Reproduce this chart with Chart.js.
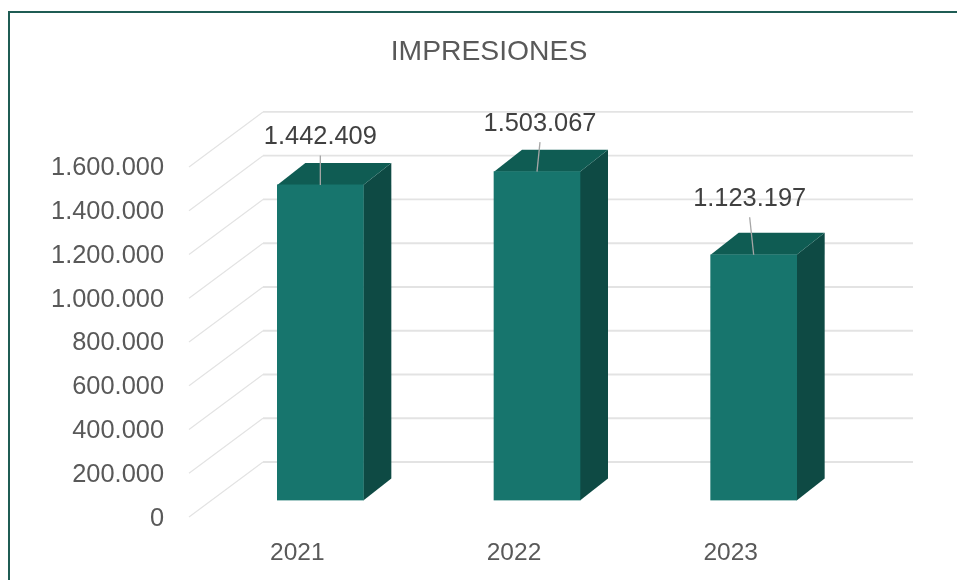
<!DOCTYPE html>
<html>
<head>
<meta charset="utf-8">
<title>IMPRESIONES</title>
<style>html,body{margin:0;padding:0;background:#fff}canvas{display:block}</style>
<script src="https://cdn.jsdelivr.net/npm/chart.js@4"></script>
</head>
<body>
<canvas id="c" width="957" height="580"></canvas>
<script>
const chartTitle = 'IMPRESIONES';
const categories = ['2021', '2022', '2023'];
const impressions = [1442409, 1503067, 1123197];
const axisMax = 1600000;
const axisStep = 200000;

// Oblique projection of the 3D look (pixels)
const wallDepth = { x: 74, y: 55 };
const barShift = { x: 23, y: 16.5 };
const barDepth = { x: 28, y: 22 };
const labelShift = [{ x: 0, y: -47.5, gap: 18 }, { x: 3, y: -47.5, gap: 18 }, { x: -4, y: -55.5, gap: 18 }];
const yLabelNudge = 1.5;

const fontFamily = '"Liberation Sans", Arial, sans-serif';
const fmt = v => String(v).replace(/\B(?=(\d{3})+(?!\d))/g, '.');

const plot3d = {
  id: 'plot3d',
  afterLayout(chart) {
    // the title is centred a little to the right of the canvas centre
    chart.titleBlock.left = 138;
    chart.titleBlock.right = 840;
    // value labels sit slightly below their grid-line ends
    const y = chart.scales.y, drawLabels = y.drawLabels;
    if (!y._nudged) {
      y._nudged = true;
      y.drawLabels = function (area) {
        chart.ctx.save();
        chart.ctx.translate(0, yLabelNudge);
        drawLabels.call(this, area);
        chart.ctx.restore();
      };
    }
  },
  beforeDraw(chart) {
    const ctx = chart.ctx;
    ctx.save();
    ctx.strokeStyle = '#1f5c54';
    ctx.lineWidth = 2;
    ctx.beginPath();
    ctx.moveTo(9, 580);
    ctx.lineTo(9, 12);
    ctx.lineTo(957, 12);
    ctx.stroke();
    ctx.restore();
  },
  beforeDatasetsDraw(chart) {
    const ctx = chart.ctx, y = chart.scales.y, a = chart.chartArea;
    ctx.save();
    ctx.strokeStyle = '#e3e3e3';
    y.ticks.forEach(t => {
      const py = y.getPixelForValue(t.value);
      ctx.lineWidth = 1.2;
      ctx.beginPath();
      ctx.moveTo(a.left, py);
      ctx.lineTo(a.left + wallDepth.x, py - wallDepth.y);
      ctx.stroke();
      ctx.lineWidth = 1.8;
      ctx.beginPath();
      ctx.moveTo(a.left + wallDepth.x, py - wallDepth.y);
      ctx.lineTo(a.right + wallDepth.x, py - wallDepth.y);
      ctx.stroke();
    });
    chart.getDatasetMeta(0).data.forEach(bar => {
      const half = bar.width / 2;
      const l = bar.x - half + barShift.x, r = bar.x + half + barShift.x;
      const t = bar.y - barShift.y, b = bar.base - barShift.y;
      ctx.fillStyle = '#0e4a44';
      ctx.beginPath();
      ctx.moveTo(r, t);
      ctx.lineTo(r + barDepth.x, t - barDepth.y);
      ctx.lineTo(r + barDepth.x, b - barDepth.y);
      ctx.lineTo(r, b);
      ctx.closePath();
      ctx.fill();
      ctx.fillStyle = '#0f5c53';
      ctx.beginPath();
      ctx.moveTo(l, t);
      ctx.lineTo(l + barDepth.x, t - barDepth.y);
      ctx.lineTo(r + barDepth.x, t - barDepth.y);
      ctx.lineTo(r, t);
      ctx.closePath();
      ctx.fill();
    });
    ctx.restore();
  },
  beforeDatasetDraw(chart) {
    chart.ctx.save();
    chart.ctx.translate(barShift.x, -barShift.y);
  },
  afterDatasetDraw(chart) {
    chart.ctx.restore();
  },
  afterDatasetsDraw(chart) {
    const ctx = chart.ctx;
    ctx.save();
    ctx.font = '25.4px ' + fontFamily;
    ctx.textAlign = 'center';
    ctx.textBaseline = 'middle';
    chart.getDatasetMeta(0).data.forEach((bar, i) => {
      const px = bar.x + barShift.x, py = bar.y - barShift.y, s = labelShift[i];
      ctx.strokeStyle = '#a6a6a6';
      ctx.lineWidth = 1.3;
      ctx.beginPath();
      ctx.moveTo(px + s.x, py + s.y + s.gap);
      ctx.lineTo(px, py);
      ctx.stroke();
      ctx.fillStyle = '#404040';
      ctx.fillText(fmt(impressions[i]), px + s.x, py + s.y);
    });
    ctx.restore();
  }
};

new Chart(document.getElementById('c'), {
  type: 'bar',
  data: {
    labels: categories,
    datasets: [{
      label: chartTitle,
      data: impressions,
      backgroundColor: '#17756d',
      borderWidth: 0,
      barThickness: 86
    }]
  },
  plugins: [plot3d],
  options: {
    responsive: false,
    animation: false,
    devicePixelRatio: 1,
    layout: { padding: { left: 0, right: 118, top: 0, bottom: 0 } },
    plugins: {
      legend: { display: false },
      tooltip: { enabled: false },
      title: {
        display: true,
        text: chartTitle,
        color: '#595959',
        font: { family: fontFamily, size: 28.3, weight: 'normal', lineHeight: 1.2 },
        padding: { top: 35, bottom: 98 }
      }
    },
    scales: {
      x: {
        grid: { display: false },
        border: { display: false },
        afterFit(s) { s.height = 63; },
        ticks: {
          color: '#595959',
          font: { family: fontFamily, size: 24.5 },
          padding: 14,
          maxRotation: 0,
          autoSkip: false
        }
      },
      y: {
        min: 0,
        max: axisMax,
        grid: { display: false },
        border: { display: false },
        afterFit(s) { s.width = 189; },
        ticks: {
          stepSize: axisStep,
          color: '#595959',
          font: { family: fontFamily, size: 25.4 },
          padding: 17,
          autoSkip: false,
          callback: v => fmt(v)
        }
      }
    }
  }
});
</script>
</body>
</html>
